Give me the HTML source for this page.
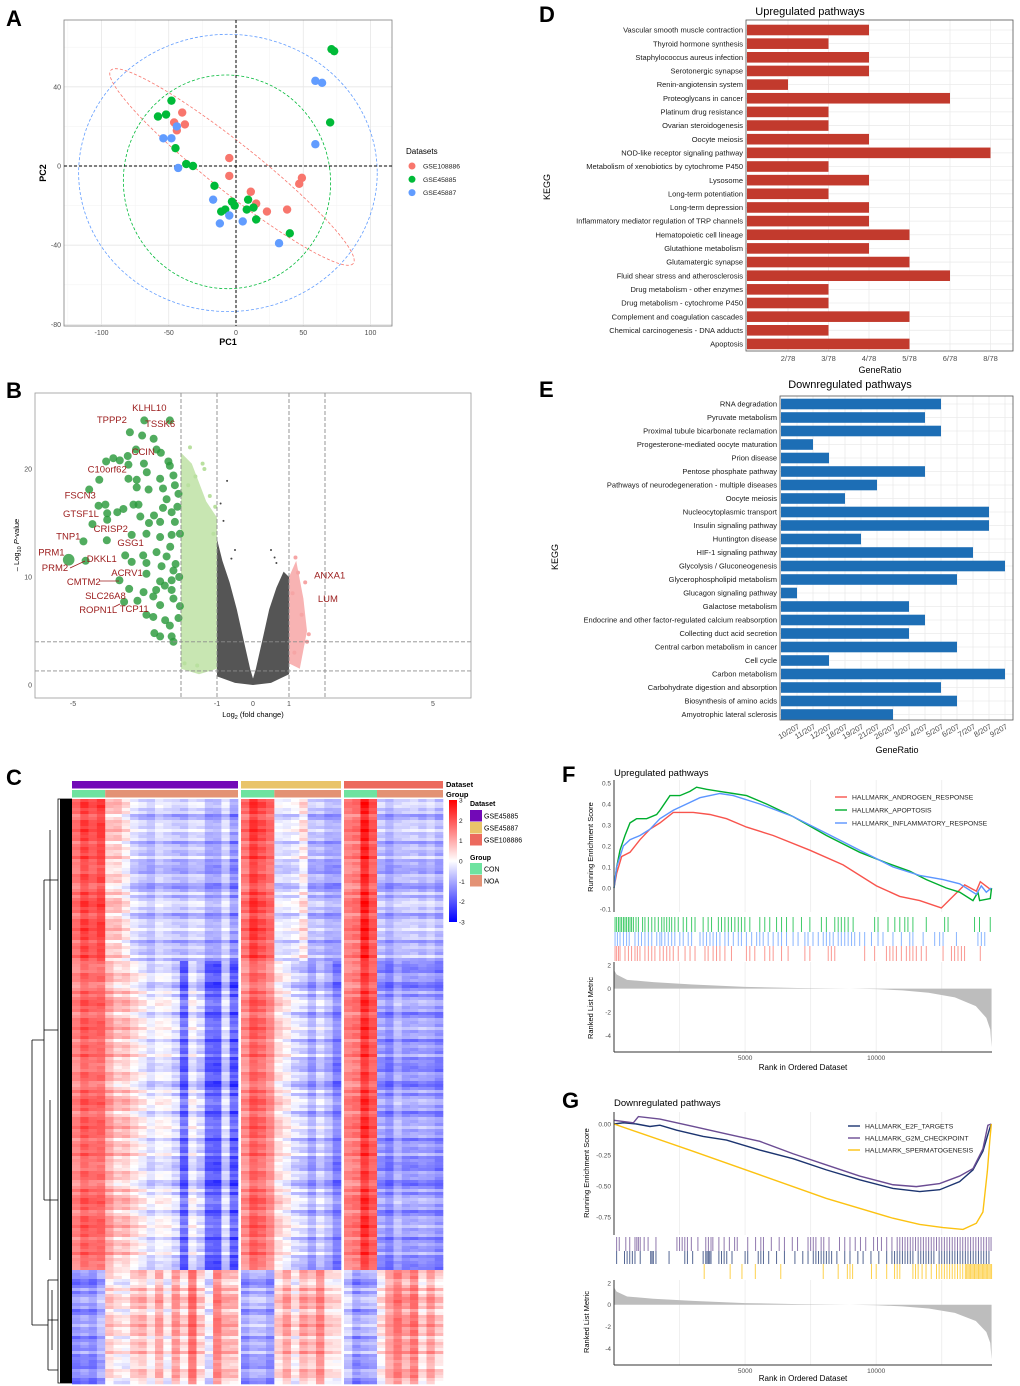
<!DOCTYPE html>
<html><head><meta charset="utf-8"><style>
html,body{margin:0;padding:0;background:#fff;}
svg{display:block;font-family:"Liberation Sans",Arial,sans-serif;}
.lt{font-size:22px;font-weight:bold;fill:#000;}
.tk{font-size:7px;fill:#4d4d4d;}
.kl{font-size:7.5px;fill:#1a1a1a;}
</style></head><body>
<svg id="fig" width="1020" height="1386" viewBox="0 0 1020 1386">
<rect x="0" y="0" width="1020" height="1386" fill="#fff"/>
<text class="lt" x="6" y="26">A</text>
<text class="lt" x="6" y="398">B</text>
<text class="lt" x="6" y="785">C</text>
<text class="lt" x="539" y="22">D</text>
<text class="lt" x="539" y="397">E</text>
<text class="lt" x="562" y="782">F</text>
<text class="lt" x="562" y="1108">G</text>

<text x="228" y="345" font-size="9" font-weight="bold" text-anchor="middle">PC1</text>
<text x="0" y="0" font-size="9" font-weight="bold" text-anchor="middle" transform="translate(46,173) rotate(-90)">PC2</text>
<text x="406" y="154" font-size="8">Datasets</text>

<text x="253" y="717" font-size="7.5" text-anchor="middle">Log<tspan font-size="5.5" dy="2">2</tspan><tspan dy="-2"> (fold change)</tspan></text>
<text x="0" y="0" font-size="7.5" text-anchor="middle" transform="translate(19,545) rotate(-90)">– Log<tspan font-size="5.5" dy="2">10</tspan><tspan dy="-2" font-style="italic"> P</tspan>-value</text>

<text x="446" y="787" font-size="7.5" font-weight="bold">Dataset</text>
<text x="446" y="797" font-size="7.5" font-weight="bold">Group</text>

<text x="810" y="15" font-size="11" text-anchor="middle">Upregulated pathways</text>
<text x="880" y="373" font-size="9" text-anchor="middle">GeneRatio</text>
<text x="0" y="0" font-size="9" text-anchor="middle" transform="translate(550,187) rotate(-90)">KEGG</text>
<text x="850" y="388" font-size="11" text-anchor="middle">Downregulated pathways</text>
<text x="897" y="753" font-size="9" text-anchor="middle">GeneRatio</text>
<text x="0" y="0" font-size="9" text-anchor="middle" transform="translate(558,557) rotate(-90)">KEGG</text>

<text x="614" y="776" font-size="9.5">Upregulated pathways</text>
<text x="0" y="0" font-size="7.5" text-anchor="middle" transform="translate(593,847) rotate(-90)">Running Enrichment Score</text>
<text x="0" y="0" font-size="7.5" text-anchor="middle" transform="translate(593,1008) rotate(-90)">Ranked List Metric</text>
<text x="803" y="1070" font-size="8" text-anchor="middle">Rank in Ordered Dataset</text>
<text x="614" y="1106" font-size="9.5">Downregulated pathways</text>
<text x="0" y="0" font-size="7.5" text-anchor="middle" transform="translate(589,1173) rotate(-90)">Running Enrichment Score</text>
<text x="0" y="0" font-size="7.5" text-anchor="middle" transform="translate(589,1322) rotate(-90)">Ranked List Metric</text>
<text x="803" y="1381" font-size="8" text-anchor="middle">Rank in Ordered Dataset</text>
</svg>
<script>
// ---------- DATA ----------
const pcaRedX=[-40,-46,-38,-44,-5,-5,11,15,23,38,49,47];
const pcaRedY=[27,22,21,18,4,-5,-13,-19,-23,-22,-6,-9];
const pcaGreenX=[-48,-58,-52,-45,-37,-32,-16,-11,-8,-3,-1,9,8,13,15,40,70,71,73];
const pcaGreenY=[33,25,26,9,1,0,-10,-23,-22,-18,-20,-17,-22,-21,-27,-34,22,59,58];
const pcaBlueX=[-54,-48,-44,-43,-17,-12,-5,5,32,59,64,59];
const pcaBlueY=[14,14,20,-1,-17,-29,-25,-28,-39,43,42,11];
const pcaXTicks=[-100,-50,0,50,100];
const pcaYTicks=[40,0,-40,-80];
const pcaLegend=['GSE108886','GSE45885','GSE45887'];

const volX=[-3.02,-2.31,-3.42,-3.08,-2.76,-3.25,-2.68,-2.56,-3.48,-3.88,-4.08,-3.7,-3.03,-2.35,-2.31,-3.46,-4.27,-3.46,-3.23,-2.95,-2.58,-2.21,-4.55,-3.23,-2.9,-2.5,-2.17,-2.07,-4.29,-4.1,-3.77,-3.6,-3.32,-3.18,-2.75,-2.5,-2.26,-4.05,-4.46,-4.05,-3.13,-2.89,-2.58,-2.17,-4.06,-4.71,-3.37,-2.96,-2.58,-2.26,-2.03,-3.55,-3.05,-2.68,-2.4,-4.65,-3.37,-2.96,-2.54,-2.21,-3.71,-2.96,-2.58,-2.26,-3.44,-3.04,-2.69,-2.26,-3.58,-3.21,-2.77,-2.58,-2.21,-2.03,-2.96,-2.77,-2.44,-2.07,-2.31,-2.74,-2.58,-2.26,-2.21,-2.4,-2.1,-2.3,-2.15,-2.45,-2.05];
const volY=[24.5,24.5,23.4,23.1,22.8,21.8,21.8,21.5,21.2,21,20.7,20.8,20.5,20.7,20.3,20.4,19,19.1,19,19.7,19.1,19.4,18.1,18.3,18.1,18.2,18.5,17.7,16.6,16.7,16,16.3,16.7,16.7,15.7,16.4,16,15.9,14.9,15.3,15.6,15,15.1,15.1,13.4,13.3,13.9,14,13.7,13.9,14,12,12,12.3,11.9,11.5,11.4,11.3,11,10.6,9.7,10.3,9.6,9.7,8.9,8.6,8.8,8.8,7.7,7.8,8.2,7.4,8,7.3,6.5,6.3,6,6.2,5.5,4.8,4.5,4.5,4,17.2,16.5,12.8,11.2,9.2,10];
const volPrmX=-5.12, volPrmY=11.6;
const volGreyX=[-1,-1,-0.85,-0.65,-0.45,-0.25,-0.08,0,0.08,0.25,0.45,0.65,0.85,1,1,0.5,0,-0.5];
const volGreyY=[0.8,13.5,11.5,9.5,7,4,1.5,0.6,1.5,4,7,9,10.5,10,1,0.2,0,0.2];
const volLgX=[-2,-2,-1.7,-1.3,-1,-1,-1.5];
const volLgY=[1.5,21.5,20.5,17,15.5,1.5,1.0];
const volPkX=[1,1,1.2,1.4,1.5,1.3];
const volPkY=[2,10,11.5,8,5,1.5];
const volGreyDotX=[-0.72,-0.9,-0.82,-0.6,0.5,0.6,0.65,-0.5];
const volGreyDotY=[18.9,16.8,15.2,11.7,12.5,11.8,11.3,12.5];
const volPinkDotX=[1.18,1.25,1.45,1.55,1.1,1.35,1.5,1.15];
const volPinkDotY=[11.8,10.4,9.5,4.7,8.5,6.5,4,3];
const volLgDotX=[-1.75,-1.4,-1.35,-1.6,-1.8,-1.2,-1.05,-1.1,-1.9,-1.55];
const volLgDotY=[22,20.5,20,19.3,18.5,17.5,16.5,14,2,1.8];
const volXTicks=[-5,-1,0,1,5];
const volYTicks=[0,10,20];
const volVLines=[-2,-1,1,2];
const volHLines=[4.0,1.3];
const volLabels=['KLHL10','TPPP2','TSSK6','CCIN','C10orf62','FSCN3','GTSF1L','CRISP2','TNP1','GSG1','PRM1','DKKL1','PRM2','ACRV1','CMTM2','SLC26A8','ROPN1L','TCP11','ANXA1','LUM'];
const volLabX=[-2.88,-3.92,-2.58,-3.05,-4.05,-4.8,-4.78,-3.95,-5.13,-3.4,-5.6,-4.2,-5.5,-3.5,-4.7,-4.1,-4.3,-3.3,2.13,2.08];
const volLabY=[25.7,24.6,24.2,21.6,20,17.6,15.9,14.5,13.8,13.2,12.3,11.7,10.9,10.4,9.6,8.3,7,7.1,10.2,8];

const hmTopMeans=[1.5,2.2,2.0,2.1, 0.3,0.6,0.1,-0.6,-0.7,-0.8,-0.6,-0.9,-0.8,-0.9,-0.7,-0.6,-1.0,-1.2,-0.8,-1.3, 1.6,2.2,2.0,1.8, -0.5,-0.7,-0.3,0.2,-1.0,-0.8,-1.0,-1.2, 1.2,1.6,2.6,1.8, -0.8,-1.0,-0.9,-1.0,-0.7,-0.9,-0.8,-1.0];
const hmMidMeans=[1.3,1.9,1.8,1.7, 0.8,0.6,0.7,0.2,0.0,-0.3,-0.2,-0.4,-0.5,-1.8,-0.3,-0.6,-1.7,-2.0,-0.8,-1.9, 1.3,1.8,1.7,1.4, 0.3,-0.2,-0.4,-0.6,-1.2,-0.5,-0.8,-1.6, 1.2,1.6,2.4,1.8, -1.2,-1.4,-1.0,-1.5,-1.2,-1.1,-1.3,-1.4];
const hmBotMeans=[-1.5,-1.2,-1.3,-1.0, 0.3,0.2,0.0,0.5,0.8,0.3,0.9,-0.2,1.2,0.4,1.6,0.5,-0.2,1.4,0.6,0.8, -1.2,-1.0,-0.9,-1.1, 0.4,0.8,0.2,1.0,0.6,1.4,0.5,0.2, -0.8,-1.2,-1.0,-1.0, 0.2,1.2,1.5,0.8,1.6,0.4,1.0,0.5];
const hmRowOff=[0.2,-0.3,0.4,0.1,-0.5,0.6,-0.1,0.3,-0.4,0.0,0.5,-0.2,0.2,-0.6,0.3,0.1,-0.3,0.7,-0.2,0.0,0.4,-0.4,0.1,0.5,-0.1,-0.5,0.3,0.2,-0.3,0.6,-0.2,0.1,0.4];
const hmOffsets=[0.3,-0.2,0.5,-0.4,0.1,0.6,-0.3,0.2,-0.5,0.4,0,-0.1,0.7,-0.6,0.2,0.3,-0.4,0.1,-0.2,0.5,-0.3];
const hmScaleTicks=[3,2,1,0,-1,-2,-3];

const upTerms=['Vascular smooth muscle contraction','Thyroid hormone synthesis','Staphylococcus aureus infection','Serotonergic synapse','Renin-angiotensin system','Proteoglycans in cancer','Platinum drug resistance','Ovarian steroidogenesis','Oocyte meiosis','NOD-like receptor signaling pathway','Metabolism of xenobiotics by cytochrome P450','Lysosome','Long-term potentiation','Long-term depression','Inflammatory mediator regulation of TRP channels','Hematopoietic cell lineage','Glutathione metabolism','Glutamatergic synapse','Fluid shear stress and atherosclerosis','Drug metabolism - other enzymes','Drug metabolism - cytochrome P450','Complement and coagulation cascades','Chemical carcinogenesis - DNA adducts','Apoptosis'];
const upRatioIdx=[2,1,2,2,0,4,1,1,2,5,1,2,1,2,2,3,2,3,4,1,1,3,1,3];
const upTicks=['2/78','3/78','4/78','5/78','6/78','8/78'];
const downTerms=['RNA degradation','Pyruvate metabolism','Proximal tubule bicarbonate reclamation','Progesterone-mediated oocyte maturation','Prion disease','Pentose phosphate pathway','Pathways of neurodegeneration - multiple diseases','Oocyte meiosis','Nucleocytoplasmic transport','Insulin signaling pathway','Huntington disease','HIF-1 signaling pathway','Glycolysis / Gluconeogenesis','Glycerophospholipid metabolism','Glucagon signaling pathway','Galactose metabolism','Endocrine and other factor-regulated calcium reabsorption','Collecting duct acid secretion','Central carbon metabolism in cancer','Cell cycle','Carbon metabolism','Carbohydrate digestion and absorption','Biosynthesis of amino acids','Amyotrophic lateral sclerosis'];
const downRatioIdx=[9,8,9,1,2,8,5,3,12,12,4,11,13,10,0,7,8,7,10,2,13,9,10,6];
const downTicks=['10/207','11/207','12/207','18/207','19/207','21/207','26/207','3/207','4/207','5/207','6/207','7/207','8/207','9/207'];

const rankTicks=[5000,10000];
const fEsYTicks=[0.5,0.4,0.3,0.2,0.1,0.0,-0.1];
const fMetricTicks=[2,0,-2,-4];
const fNames=['HALLMARK_ANDROGEN_RESPONSE','HALLMARK_APOPTOSIS','HALLMARK_INFLAMMATORY_RESPONSE'];
const fGreenRank=[0,102,229,419,610,864,1245,1626,1753,2134,2515,2896,3150,3531,4039,4547,5055,5817,6833,8103,9373,10389,11278,11913,12675,13183,13691,13881,13945,14351,14400];
const fGreenES=[0,0.10,0.18,0.25,0.31,0.33,0.33,0.35,0.37,0.44,0.44,0.46,0.48,0.47,0.46,0.45,0.44,0.40,0.34,0.25,0.17,0.12,0.08,0.04,0.00,-0.02,-0.06,-0.02,-0.06,-0.05,0.0];
const fBlueRank=[0,102,356,610,991,1372,1753,2261,2769,3277,4039,4547,5563,6833,8103,9373,10643,11659,12548,13183,13818,14008,14199,14389];
const fBlueES=[0,0.10,0.20,0.23,0.25,0.28,0.33,0.37,0.40,0.43,0.45,0.44,0.40,0.34,0.26,0.18,0.10,0.06,0.04,0.02,-0.03,0.01,-0.02,0.0];
const fRedRank=[0,102,292,610,991,1372,1753,2261,3023,3658,4293,5055,6071,7468,8738,10008,10897,11659,12484,12929,13373,13818,13970,14389];
const fRedES=[0,0.07,0.15,0.17,0.23,0.28,0.31,0.36,0.36,0.35,0.33,0.29,0.25,0.18,0.11,0.01,-0.04,-0.06,-0.095,-0.04,0.015,-0.015,0.03,-0.01];
const fGreenHits=[0.4,1,1.7,2.3,2.9,3.6,4.2,4.8,5.5,6.1,6.7,7.4,8.4,9.3,10.9,11.8,13.1,14.4,15.6,16.9,18.2,19.1,20.1,21.1,22,23.2,24.5,26.4,27.7,29.6,30.9,34,35.9,37.2,39.8,41,42.3,43.6,44.8,46.1,47.4,48.6,49.9,51.8,55.6,57.5,59.4,62,63.9,65.8,68.3,71.5,74.7,79.1,81,84.2,85.5,86.7,88,89.3,91.2,99.4,100.7,104.5,107.1,109,110.9,112.1,114,119.1,126.1,127.4,137.5,139.4,143.5];
const fBlueHits=[0.4,1.3,2.3,3.6,4.8,5.8,8,9.3,10.5,11.8,13.1,14.4,16.3,17.5,18.2,19.4,20.7,22,23.2,25.1,26.4,28.3,29.6,32.8,34,35.3,36.6,37.8,39.1,40.4,42.3,43.6,45.5,47.4,48.6,50.5,52.5,54.4,55.6,56.9,58.8,60.7,62.6,63.9,65.8,68.3,70.2,72.8,74,75.9,77.9,79.8,81,82.3,83.6,85.5,86.7,88,89.3,90.6,91.8,93.7,95.6,98.2,100.7,102.6,106.4,109.6,112.8,114,117.9,122.3,124.2,125.5,130.6,138.8,140.1,141.4];
const fRedHits=[0.4,1,1.7,2.3,4.2,5.5,6.7,8,8.9,9.9,11.8,13.1,14.4,15.6,17.5,18.8,20.1,21.3,22.6,24.5,27.1,29,30.9,34.7,35.9,37.8,39.1,40.4,42.3,44.8,50.5,51.8,53.7,57.5,59.4,60.7,63.9,66.4,72.8,74.7,81.7,82.9,84.2,95.6,99.4,103.9,105.2,106.4,107.7,109.6,111.5,112.8,114,115.3,117.2,119.1,125.5,128.7,129.9,131.2,132.5,133.7,139.7];

const gEsYTicks=[0.00,-0.25,-0.50,-0.75];
const gNames=['HALLMARK_E2F_TARGETS','HALLMARK_G2M_CHECKPOINT','HALLMARK_SPERMATOGENESIS'];
const gNavyRank=[0,360,860,1370,1750,2390,3400,4290,5560,6830,8100,9370,10640,11660,12420,13180,13690,14070,14330,14390];
const gNavyES=[0,0.01,0,-0.02,-0.01,-0.05,-0.10,-0.13,-0.21,-0.28,-0.37,-0.45,-0.52,-0.545,-0.53,-0.465,-0.37,-0.22,-0.035,0];
const gPurpleRank=[0,740,930,1750,3020,4290,5560,6830,8100,9370,10640,11530,12420,13180,13690,14070,14260,14390];
const gPurpleES=[0.03,0.01,0.06,0.04,-0.02,-0.08,-0.14,-0.24,-0.33,-0.42,-0.49,-0.505,-0.48,-0.42,-0.36,-0.20,-0.01,0];
const gYellowRank=[0,3020,5560,8100,10640,11660,12550,13310,13820,14070,14240,14330,14390];
const gYellowES=[0,-0.22,-0.41,-0.60,-0.76,-0.81,-0.835,-0.85,-0.80,-0.71,-0.38,-0.14,0];
const gPurpleHits=[1,2,4.5,6,8,8.7,9.3,10,11.5,13,16,24,25,26,27,28,29.5,32,35,36,37,37.7,40,42,44,46,47,51,54,56,57,60,63,65,68,70,74,75,76,77,79,80,82,86,88,90,92,94,96,99,100.5,102,104,106,108,109,110,111,112,113,114,115,116,117,118,119,120,121,122,123,124,125,126,127,128,129,130,131,132,133,134,135,136,137,138,139,140,141,142,143,143.8];
const gNavyHits=[1,4,5,6,7,8,10,14,14.5,15,16,21,27,28,30,34,35,35.5,36,36.5,37,40,41,42,43,45,50,51,55,56,57,59,62,65,69,72,74,76,77,78,79,80,81,82,83,85,88,90,93,95,98,101,104,106,107,108,109,110,111,112,113,114,116,117,118,119,120,121,122,124,125,126,127,128,129,130,131,132,133,134,135,136,137,138,139,140,141,142,143];
const gYellowHits=[34.4,44.3,48.8,53.9,63.6,79.8,85.5,89,90,91,98.2,100,104,107,108,109,114,115,116,117.5,119,121,123,124,125,126,127,128,129,130,131,132,133,134,134.5,135,135.5,136,136.5,137,137.5,138,138.5,139,139.5,140,140.5,141,141.5,142,142.5,143,143.5,144];
const metricRank=[0,100,500,1500,3000,5000,7000,9000,10000,11000,12000,13000,13800,14200,14350,14400];
const metricVal=[1.6,1.2,0.75,0.55,0.35,0.15,0.05,0,-0.05,-0.15,-0.35,-0.75,-1.5,-2.5,-3.5,-5];

// ---------- HELPERS ----------
const NS='http://www.w3.org/2000/svg';
const svg=document.getElementById('fig');
function mk(t,a,p){const e=document.createElementNS(NS,t);for(const k in a)e.setAttribute(k,a[k]);(p||svg).appendChild(e);return e;}
function txt(s,a,p){const e=mk('text',a,p);e.textContent=s;return e;}

// ---------- PANEL A ----------
const ax=v=>236+v*1.345, ay=v=>166-v*1.98;
let gA=mk('g',{});


[-125,-75,-25,25,75].forEach(v=>{const l=mk('line',{x1:ax(v),x2:ax(v),y1:20,y2:326,stroke:'#f2f2f2','stroke-width':0.5},gA);});
[60,20,-20,-60].forEach(v=>{const l=mk('line',{x1:64,x2:392,y1:ay(v),y2:ay(v),stroke:'#f2f2f2','stroke-width':0.5},gA);});
pcaXTicks.forEach(v=>{const l=mk('line',{x1:ax(v),x2:ax(v),y1:20,y2:326,stroke:'#e6e6e6','stroke-width':0.8},gA);
 const t=txt(String(v),{x:ax(v),y:335,'text-anchor':'middle',class:'tk'},gA);});
pcaYTicks.forEach(v=>{const l=mk('line',{x1:64,x2:392,y1:ay(v),y2:ay(v),stroke:'#e6e6e6','stroke-width':0.8},gA);
 const t=txt(String(v),{x:61,y:ay(v)+2.5,'text-anchor':'end',class:'tk'},gA);});
let fr=mk('rect',{x:64,y:20,width:328,height:306,fill:'none',stroke:'#7f7f7f','stroke-width':0.8},gA);


let e1=mk('ellipse',{cx:ax(-6),cy:ay(-3.5),rx:111*1.345,ry:70*1.98,fill:'none',stroke:'#619cff','stroke-dasharray':'3,2','stroke-width':0.8},gA);


let e2=mk('ellipse',{cx:ax(-6.7),cy:ay(-8),rx:77*1.345,ry:54*1.98,fill:'none',stroke:'#00ba38','stroke-dasharray':'3,2','stroke-width':0.8,transform:`rotate(-8 ${ax(-6.7)} ${ay(-8)})`},gA);


let e3=mk('ellipse',{cx:ax(-3),cy:ay(-0.5),rx:155,ry:24,fill:'none',stroke:'#f8766d','stroke-dasharray':'3,2','stroke-width':0.8,transform:`rotate(38.5 ${ax(-3)} ${ay(-0.5)})`},gA);


let h0=mk('line',{x1:64,x2:392,y1:ay(0),y2:ay(0),stroke:'#000','stroke-dasharray':'3,2','stroke-width':1},gA);


let v0=mk('line',{x1:ax(0),x2:ax(0),y1:20,y2:326,stroke:'#000','stroke-dasharray':'3,2','stroke-width':1},gA);


[[pcaRedX,pcaRedY,'#f8766d','gse108886'],[pcaGreenX,pcaGreenY,'#00ba38','gse45885'],[pcaBlueX,pcaBlueY,'#619cff','gse45887']].forEach(s=>{
 s[0].forEach((x,i)=>{const c=mk('circle',{cx:ax(x),cy:ay(s[1][i]),r:4.2,fill:s[2]},gA);});});
['#f8766d','#00ba38','#619cff'].forEach((c,i)=>{const y=166+i*13.3;
 const d=mk('circle',{cx:412,cy:y,r:3.5,fill:c},gA);
 const t=txt(pcaLegend[i],{x:423,y:y+2.5,'font-size':6.8,fill:'#222'},gA);});

// ---------- PANEL B ----------
const bx=v=>253+v*36, by=v=>685-v*10.8;
let gB=mk('g',{});


const pts=(X,Y)=>X.map((x,i)=>bx(x)+','+by(Y[i])).join(' ');
let pg=mk('polygon',{points:pts(volGreyX,volGreyY),fill:'#555555'},gB);


let pl=mk('polygon',{points:pts(volLgX,volLgY),fill:'#c8e6b2'},gB);


let pp=mk('polygon',{points:pts(volPkX,volPkY),fill:'#f8b3b3'},gB);


volGreyDotX.forEach((x,i)=>{const c=mk('circle',{cx:bx(x),cy:by(volGreyDotY[i]),r:1,fill:'#454545'},gB);});
volPinkDotX.forEach((x,i)=>{const c=mk('circle',{cx:bx(x),cy:by(volPinkDotY[i]),r:2,fill:'#f6a5a5'},gB);});
volLgDotX.forEach((x,i)=>{const c=mk('circle',{cx:bx(x),cy:by(volLgDotY[i]),r:2,fill:'#b9e09f'},gB);});
volX.forEach((x,i)=>{const c=mk('circle',{cx:bx(x),cy:by(volY[i]),r:4,fill:'#2b9a3c','fill-opacity':0.82},gB);});
let prm=mk('circle',{cx:bx(volPrmX),cy:by(volPrmY),r:5.8,fill:'#2b9a3c','fill-opacity':0.8},gB);


volVLines.forEach(v=>{const l=mk('line',{x1:bx(v),x2:bx(v),y1:393,y2:698,stroke:'#8c8c8c','stroke-dasharray':'4,2','stroke-width':0.9},gB);});
volHLines.forEach(v=>{const l=mk('line',{x1:35,x2:471,y1:by(v),y2:by(v),stroke:'#8c8c8c','stroke-dasharray':'4,2','stroke-width':0.9},gB);});
let fb=mk('rect',{x:35,y:393,width:436,height:305,fill:'none',stroke:'#999','stroke-width':0.8},gB);


volXTicks.forEach(v=>{const t=txt(String(v),{x:bx(v),y:706,'text-anchor':'middle',class:'tk','font-size':6},gB);});
volYTicks.forEach(v=>{const t=txt(String(v),{x:32,y:by(v)+2.5,'text-anchor':'end',class:'tk','font-size':6},gB);});
volLabels.forEach((s,i)=>{const t=txt(s,{x:bx(volLabX[i]),y:by(volLabY[i])+3.5,'text-anchor':'middle','font-size':9.5,fill:'#9b1b1b'},gB);});
[[70,568,85,561],[100,581,119,581],[114,607,120,604]].forEach(s=>{const l=mk('line',{x1:s[0],y1:s[1],x2:s[2],y2:s[3],stroke:'#9b1b1b','stroke-width':0.8},gB);});

// ---------- PANEL C ----------
let gC=mk('g',{});


function hcol(v){v=Math.max(-3,Math.min(3,v));let r,g,b;if(v>=0){r=255;g=b=Math.round(255*(1-v/3));}else{r=g=Math.round(255*(1+v/3));b=255;}return `rgb(${r},${g},${b})`;}
const segs=[[72,238,20],[241,341,12],[344,443,12]];
const colX=[],colW=[];
segs.forEach(s=>{const w=(s[1]-s[0])/s[2];for(let i=0;i<s[2];i++){colX.push(s[0]+i*w);colW.push(w+0.3);}});
const rh=3, hmTop=799, midStart=960, botStart=1269, hmEnd=1383;
const nRows=Math.round((hmEnd-hmTop)/rh);
for(let r=0;r<nRows;r++){
 const y=hmTop+r*rh;
 const means=y<midStart?hmTopMeans:(y<botStart?hmMidMeans:hmBotMeans);
 const ro=hmRowOff[(r*5)%hmRowOff.length];
 for(let c=0;c<colX.length;c++){
  const v=means[c]+ro*(means[c]>1?0.6:0.9)+hmOffsets[(r*7+c*3)%hmOffsets.length]*0.35;
  const rc=mk('rect',{x:colX[c],y:y,width:colW[c],height:rh+0.3,fill:hcol(v)},gC);
  
  
 }}
const dsCols=['#7209b7','#e9c46a','#ec6a5e'];
segs.forEach((s,i)=>{const a=mk('rect',{x:s[0],y:781,width:s[1]-s[0],height:7.5,fill:dsCols[i]},gC);
 const w=(s[1]-s[0])/s[2];
 const b1=mk('rect',{x:s[0],y:790,width:w*4,height:7.5,fill:'#6ee3a0'},gC);
 const b2=mk('rect',{x:s[0]+w*4,y:790,width:s[1]-s[0]-w*4,height:7.5,fill:'#e39275'},gC);});
let dend=mk('path',{d:'M72 799 H58 V1383 H72 M58 1030 H44 M58 1320 H48 M44 880 V1200 M44 880 H58 M44 1200 H58 M48 1280 V1370 M48 1280 H58 M48 1370 H58 M44 1040 H32 M48 1325 H32 M32 1040 V1325 M50 830 V930 M50 1100 V1260 M52 1290 V1350',fill:'none',stroke:'#000','stroke-width':0.8},gC);


let dblk=mk('rect',{x:60,y:799,width:12,height:584,fill:'#000'},gC);


let defs=mk('defs',{});
let lg=mk('linearGradient',{id:'hmgrad',x1:0,y1:0,x2:0,y2:1},defs);
mk('stop',{offset:'0',"stop-color":'#ff0000'},lg);mk('stop',{offset:'0.5',"stop-color":'#ffffff'},lg);mk('stop',{offset:'1',"stop-color":'#0000ff'},lg);
let cb=mk('rect',{x:449,y:800,width:8,height:122,fill:'url(#hmgrad)'},gC);


hmScaleTicks.forEach(v=>{const y=861-v*20.3;const t=txt(String(v),{x:459,y:y+2.5,'font-size':6.5,fill:'#222'},gC);});
let lt1=txt('Dataset',{x:470,y:806,'font-size':7,'font-weight':'bold'},gC);


['GSE45885','GSE45887','GSE108886'].forEach((s,i)=>{const r=mk('rect',{x:470,y:810+i*12,width:12,height:11.5,fill:dsCols[i]},gC);
 const t=txt(s,{x:484,y:818.5+i*12,'font-size':7},gC);});
let lt2=txt('Group',{x:470,y:860,'font-size':7,'font-weight':'bold'},gC);


[['CON','#6ee3a0'],['NOA','#e39275']].forEach((s,i)=>{const r=mk('rect',{x:470,y:863+i*12,width:12,height:11.5,fill:s[1]},gC);
 const t=txt(s[0],{x:484,y:871.5+i*12,'font-size':7},gC);});

// ---------- PANEL D / E ----------
function barPanel(terms,idx,ticks,o){
 const g=mk('g',{});
 
 
 const px=k=>o.x0+o.step*k, py=i=>o.y0+i*o.rs;
 ticks.forEach((s,k)=>{const l=mk('line',{x1:px(k),x2:px(k),y1:o.top,y2:o.bot,stroke:'#ebebeb','stroke-width':0.8},g);});
 terms.forEach((s,i)=>{const l=mk('line',{x1:o.left,x2:1013,y1:py(i),y2:py(i),stroke:'#ebebeb','stroke-width':0.8},g);});
 terms.forEach((s,i)=>{const b=mk('rect',{x:o.left+1,y:py(i)-5.3,width:px(idx[i])-o.left-1,height:10.6,fill:o.color},g);
  const t=txt(s,{x:o.left-3,y:py(i)+2.6,'text-anchor':'end',class:'kl'},g);});
 const f=mk('rect',{x:o.left,y:o.top,width:1013-o.left,height:o.bot-o.top,fill:'none',stroke:'#555','stroke-width':0.8},g);
 
 
 ticks.forEach((s,k)=>{let t;
  if(o.rot)t=txt(s,{x:px(k)+3,y:o.bot+8,'text-anchor':'end','font-size':7.5,fill:'#4d4d4d',transform:`rotate(-30 ${px(k)+3} ${o.bot+8})`},g);
  else t=txt(s,{x:px(k),y:o.bot+10,'text-anchor':'middle','font-size':7.5,fill:'#4d4d4d'},g);
  });
}
barPanel(upTerms,upRatioIdx,upTicks,{name:'up-kegg-bars',x0:788,step:40.5,y0:30,rs:13.65,top:20,bot:351,left:746,color:'#c23a2d',rot:false});
barPanel(downTerms,downRatioIdx,downTicks,{name:'down-kegg-bars',x0:797,step:16,y0:404,rs:13.5,top:396,bot:720,left:780,color:'#1d6eb5',rot:true});

// ---------- PANEL F / G ----------
const rx=r=>614+r*0.02622;
function gsea(o){
 const g=mk('g',{});
 
 
 [2500,5000,7500,10000,12500].forEach(r=>{
  const l1=mk('line',{x1:rx(r),x2:rx(r),y1:o.esTop,y2:o.esBot,stroke:'#ececec','stroke-width':0.8},g);
  const l2=mk('line',{x1:rx(r),x2:rx(r),y1:o.mTop,y2:o.mBot,stroke:'#ececec','stroke-width':0.8},g);});
 const mp=['M'+rx(0)+','+o.my(0)].concat(metricRank.map((r,i)=>'L'+rx(r)+','+o.my(metricVal[i]))).concat(['L'+rx(14400)+','+o.my(0),'Z']).join(' ');
 const ma=mk('path',{d:mp,fill:'#bdbdbd'},g);
 o.hits.forEach((h,k)=>{h.arr.forEach(v=>{const l=mk('line',{x1:rx(v*100),x2:rx(v*100),y1:h.y1,y2:h.y2,stroke:h.c,'stroke-width':1,'stroke-opacity':0.75},g);});});
 o.curves.forEach((c,k)=>{const d=c.r.map((r,i)=>(i?'L':'M')+rx(r)+','+o.ey(c.v[i])).join(' ');
  const p=mk('path',{d:d,fill:'none',stroke:c.c,'stroke-width':1.4},g);
  const ll=mk('line',{x1:o.lgx,x2:o.lgx+12,y1:o.lgy+k*o.lgs,y2:o.lgy+k*o.lgs,stroke:c.c,'stroke-width':1.4},g);
  const lt=txt(o.names[k],{x:o.lgx+17,y:o.lgy+k*o.lgs+2.5,'font-size':6.8,fill:'#222'},g);});
 const a1=mk('line',{x1:614,x2:614,y1:o.esTop,y2:o.esBot,stroke:'#333','stroke-width':1},g);
 const a2=mk('line',{x1:614,x2:614,y1:o.mTop,y2:o.mBot,stroke:'#333','stroke-width':1},g);
 const a3=mk('line',{x1:614,x2:992,y1:o.mBot,y2:o.mBot,stroke:'#333','stroke-width':1},g);
 o.esTicks.forEach(v=>{const t=txt(o.fmt(v),{x:611,y:o.ey(v)+2.5,'text-anchor':'end','font-size':6.5,fill:'#4d4d4d'},g);});
 fMetricTicks.forEach(v=>{const t=txt(String(v),{x:611,y:o.my(v)+2.5,'text-anchor':'end','font-size':6.5,fill:'#4d4d4d'},g);});
 rankTicks.forEach(v=>{const t=txt(String(v),{x:rx(v),y:o.mBot+8,'text-anchor':'middle','font-size':6.5,fill:'#4d4d4d'},g);});
}
gsea({name:'gsea-up',esTop:780,esBot:912,mTop:962,mBot:1052,ey:v=>888-v*210,my:v=>988.6-v*11.7,
 esTicks:fEsYTicks,fmt:v=>v.toFixed(1),names:fNames,keys:['androgen','apoptosis','inflammatory'],lgx:835,lgy:797,lgs:13,
 curves:[{r:fRedRank,v:fRedES,c:'#f8544d'},{r:fGreenRank,v:fGreenES,c:'#00ae2e'},{r:fBlueRank,v:fBlueES,c:'#5b95ff'}],
 hits:[{arr:fRedHits,y1:946,y2:961,c:'#f8766d'},{arr:fGreenHits,y1:917,y2:932,c:'#00ba38'},{arr:fBlueHits,y1:932,y2:946,c:'#619cff'}]});
gsea({name:'gsea-down',esTop:1112,esBot:1235,mTop:1280,mBot:1365,ey:v=>1124-v*124,my:v=>1304.7-v*10.9,
 esTicks:gEsYTicks,fmt:v=>v.toFixed(2),names:gNames,keys:['e2f','g2m','spermatogenesis'],lgx:848,lgy:1126,lgs:12,
 curves:[{r:gNavyRank,v:gNavyES,c:'#1c3470'},{r:gPurpleRank,v:gPurpleES,c:'#6b4c93'},{r:gYellowRank,v:gYellowES,c:'#fcc211'}],
 hits:[{arr:gNavyHits,y1:1251,y2:1264,c:'#1c3470'},{arr:gPurpleHits,y1:1237,y2:1251,c:'#6b4c93'},{arr:gYellowHits,y1:1264,y2:1279,c:'#fcc211'}]});
</script>
</body></html>
